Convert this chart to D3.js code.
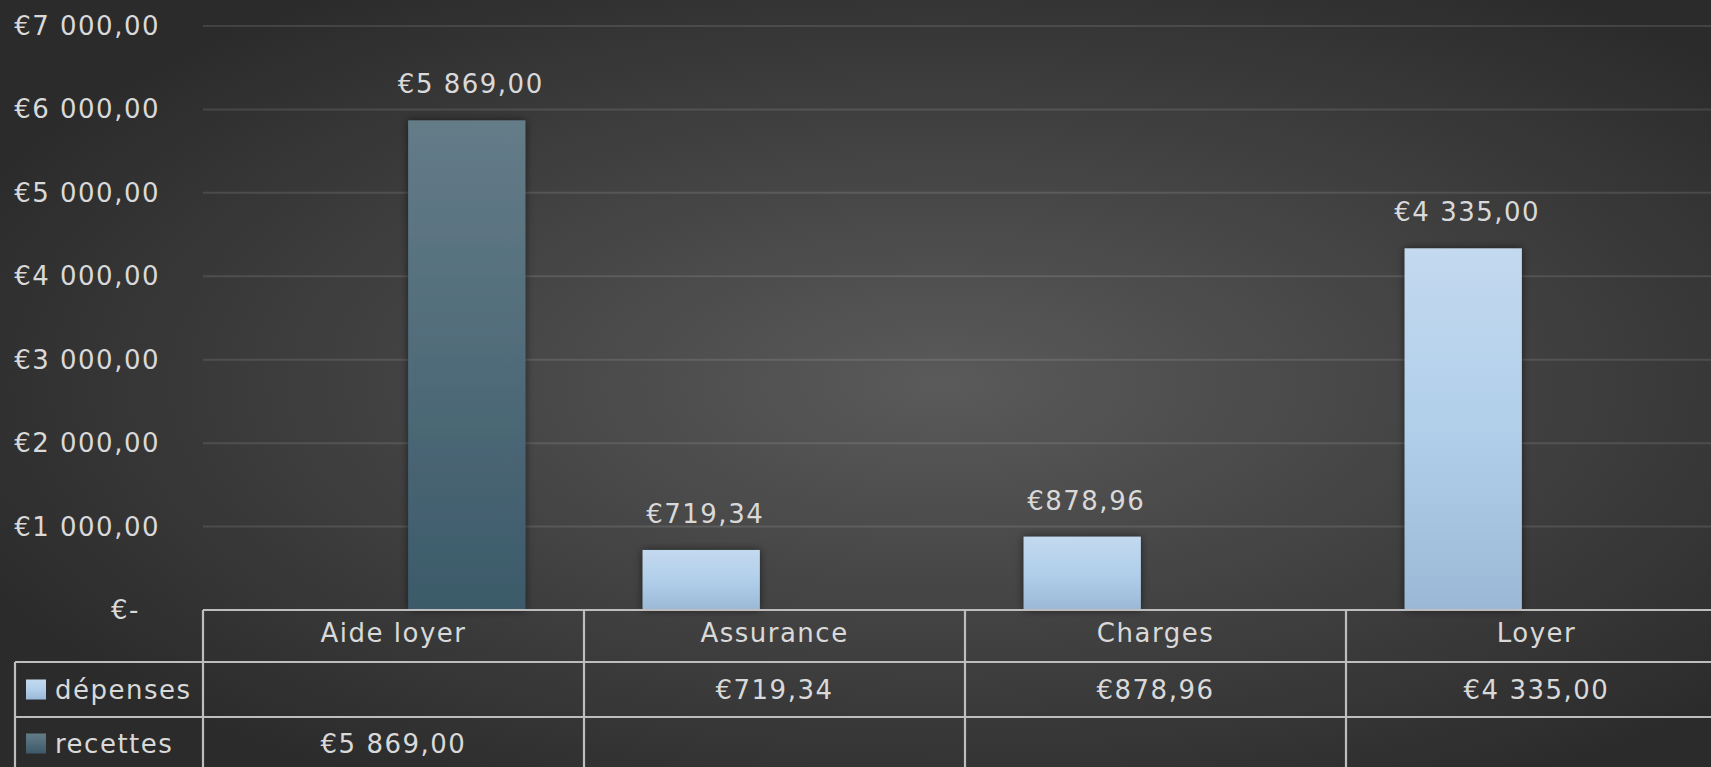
<!DOCTYPE html>
<html>
<head>
<meta charset="utf-8">
<script src="https://cdn.jsdelivr.net/npm/d3@7"></script>
<style>
  html, body { margin: 0; padding: 0; background: #333; overflow: hidden; }
  svg { display: block; }
  text { font-family: "DejaVu Sans", sans-serif; font-size: 26px; fill: #d9d9d9; letter-spacing: 1.5px; }
</style>
</head>
<body>
<svg id="chart" width="1711" height="767"></svg>
<script>
const categories = ["Aide loyer", "Assurance", "Charges", "Loyer"];
const seriesNames = ["dépenses", "recettes"];
const depenses = [null, 719.34, 878.96, 4335.00];
const recettes = [5869.00, null, null, null];
const yTicks = [0, 1000, 2000, 3000, 4000, 5000, 6000, 7000];
const yTickLabels = ["€-", "€1 000,00", "€2 000,00", "€3 000,00", "€4 000,00", "€5 000,00", "€6 000,00", "€7 000,00"];

const W = 1711, H = 767;
const plotLeft = 203, bandW = 381;
const y0 = 610, yTop = 26;

const locale = d3.formatLocale({decimal: ",", thousands: " ", grouping: [3], currency: ["€", ""]});
const fmt = locale.format("$,.2f");

const svg = d3.select("#chart");
const defs = svg.append("defs");

const bg = defs.append("radialGradient").attr("id", "bg")
  .attr("cx", 0.55).attr("cy", 0.5).attr("r", 0.62);
bg.append("stop").attr("offset", 0).attr("stop-color", "#5a5a5a");
bg.append("stop").attr("offset", 1).attr("stop-color", "#2b2b2b");

const gDep = defs.append("linearGradient").attr("id", "gDep").attr("x1", 0).attr("y1", 0).attr("x2", 0).attr("y2", 1);
gDep.append("stop").attr("offset", 0).attr("stop-color", "#c3d9ef");
gDep.append("stop").attr("offset", 0.5).attr("stop-color", "#b1cfea");
gDep.append("stop").attr("offset", 1).attr("stop-color", "#9bb9d6");
const gRec = defs.append("linearGradient").attr("id", "gRec").attr("x1", 0).attr("y1", 0).attr("x2", 0).attr("y2", 1);
gRec.append("stop").attr("offset", 0).attr("stop-color", "#647c88");
gRec.append("stop").attr("offset", 1).attr("stop-color", "#3c5a6a");

const shadow = defs.append("filter").attr("id", "shadow").attr("x", "-20%").attr("y", "-10%").attr("width", "140%").attr("height", "120%");
shadow.append("feDropShadow").attr("dx", 0).attr("dy", 0).attr("stdDeviation", 4)
  .attr("flood-color", "#000").attr("flood-opacity", 0.55);

svg.append("rect").attr("width", W).attr("height", H).attr("fill", "url(#bg)");

const x0 = d3.scaleBand().domain(categories).range([plotLeft, plotLeft + bandW * categories.length]).paddingInner(0).paddingOuter(0);
const x1 = d3.scaleBand().domain(seriesNames).range([0, x0.bandwidth()]).paddingInner(0.2).paddingOuter(0.4);
const y = d3.scaleLinear().domain([0, 7000]).range([y0, yTop]);

// gridlines
svg.append("g").selectAll("line").data(yTicks.filter(d => d > 0)).join("line")
  .attr("x1", plotLeft).attr("x2", W)
  .attr("y1", d => y(d)).attr("y2", d => y(d))
  .attr("stroke", "rgba(255,255,255,0.11)").attr("stroke-width", 2);

// y labels
svg.append("g").selectAll("text").data(yTicks).join("text")
  .attr("x", (d, i) => i === 0 ? 140 : 160)
  .attr("y", d => y(d))
  .attr("text-anchor", "end")
  .attr("dominant-baseline", "central")
  .text((d, i) => yTickLabels[i]);

// bars
const seriesData = [depenses, recettes];
const fills = ["url(#gDep)", "url(#gRec)"];
const barData = [];
seriesNames.forEach((s, si) => {
  categories.forEach((c, ci) => {
    const v = seriesData[si][ci];
    if (v != null) barData.push({s, si, c, v});
  });
});

svg.append("g").selectAll("rect").data(barData).join("rect")
  .attr("x", d => x0(d.c) + x1(d.s))
  .attr("width", x1.bandwidth())
  .attr("y", d => y(d.v))
  .attr("height", d => y0 - y(d.v))
  .attr("fill", d => fills[d.si])
  .attr("filter", "url(#shadow)");

// value labels
svg.append("g").selectAll("text").data(barData).join("text")
  .attr("x", d => x0(d.c) + x1(d.s) + x1.bandwidth() / 2 + 4)
  .attr("y", d => y(d.v) - 36)
  .attr("text-anchor", "middle")
  .attr("dominant-baseline", "central")
  .text(d => fmt(d.v));

// data table
const tbl = svg.append("g").attr("stroke", "#bdbdbd").attr("stroke-width", 2.2);
const rowTop = y0, rowH1 = 52, rowH = 55;
const r1 = rowTop + rowH1, r2 = r1 + rowH;
tbl.append("line").attr("x1", plotLeft).attr("x2", W).attr("y1", rowTop).attr("y2", rowTop);
tbl.append("line").attr("x1", 15).attr("x2", W).attr("y1", r1).attr("y2", r1);
tbl.append("line").attr("x1", 15).attr("x2", W).attr("y1", r2).attr("y2", r2);
tbl.append("line").attr("x1", 15).attr("x2", 15).attr("y1", r1).attr("y2", H + 5);
tbl.selectAll("line.col").data(categories).join("line").attr("class", "col")
  .attr("x1", d => x0(d)).attr("x2", d => x0(d))
  .attr("y1", rowTop).attr("y2", H + 5);

// header labels
svg.append("g").selectAll("text").data(categories).join("text")
  .attr("x", d => x0(d) + x0.bandwidth() / 2)
  .attr("y", rowTop + rowH1 / 2 - 3)
  .attr("text-anchor", "middle")
  .attr("dominant-baseline", "central")
  .text(d => d);

// row values
seriesNames.forEach((s, si) => {
  const cy = si === 0 ? r1 + rowH / 2 : r2 + rowH / 2 - 1;
  svg.append("g").selectAll("text").data(categories.map((c, ci) => ({c, v: seriesData[si][ci]})).filter(d => d.v != null)).join("text")
    .attr("x", d => x0(d.c) + x0.bandwidth() / 2)
    .attr("y", cy)
    .attr("text-anchor", "middle")
    .attr("dominant-baseline", "central")
    .text(d => fmt(d.v));
  // legend key
  const lg = svg.append("g");
  lg.append("rect").attr("x", 26).attr("y", cy - 10).attr("width", 20).attr("height", 20).attr("fill", fills[si]);
  lg.append("text").attr("x", 55).attr("y", cy).attr("dominant-baseline", "central").text(s);
});
</script>
</body>
</html>
